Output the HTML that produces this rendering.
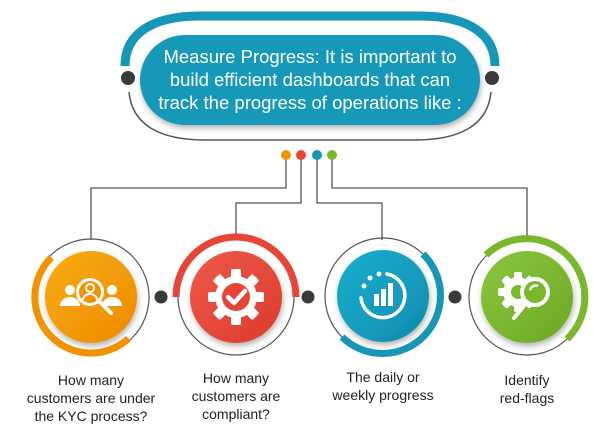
<!DOCTYPE html>
<html><head><meta charset="utf-8"><style>
html,body{margin:0;padding:0;background:#fff;}
body{width:600px;height:437px;position:relative;overflow:hidden;font-family:"Liberation Sans",sans-serif;}
.lbl{position:absolute;width:150px;text-align:center;font-size:14px;line-height:18px;color:#222;}
</style></head><body>
<svg width="600" height="437" style="position:absolute;left:0;top:0">
<defs>
<linearGradient id="go" x1="0" y1="0" x2="1" y2="1"><stop offset="0" stop-color="#f8ae10"/><stop offset="1" stop-color="#ee8a00"/></linearGradient>
<linearGradient id="gr" x1="0" y1="0" x2="1" y2="1"><stop offset="0" stop-color="#ee5a4a"/><stop offset="1" stop-color="#dc3a2c"/></linearGradient>
<linearGradient id="gb" x1="0" y1="0" x2="1" y2="1"><stop offset="0" stop-color="#1aafcf"/><stop offset="1" stop-color="#0f8bad"/></linearGradient>
<linearGradient id="gg" x1="0" y1="0" x2="1" y2="1"><stop offset="0" stop-color="#8cc63e"/><stop offset="1" stop-color="#6aa823"/></linearGradient>
<filter id="sh" x="-20%" y="-20%" width="140%" height="150%"><feDropShadow dx="1" dy="3" stdDeviation="3" flood-color="#000" flood-opacity="0.3"/></filter>
</defs>
<!-- top frame -->
<path d="M125,66 C125,35 150,16 200,16 L420,16 C470,16 495,35 495,66" fill="none" stroke="#1697b7" stroke-width="9"/>
<path d="M129,92 C132,125 160,140 205,140 L415,140 C460,140 488,125 491,92" fill="none" stroke="#555" stroke-width="1.5"/>
<circle cx="128" cy="78" r="7" fill="#3a3a3a"/>
<circle cx="492" cy="78" r="7" fill="#3a3a3a"/>
<rect x="140" y="35" width="340" height="90" rx="45" fill="#1599b8" filter="url(#sh)"/>
<!-- connectors -->
<g fill="none" stroke="#555" stroke-width="1.3">
<path d="M286,155 V188 H91 V240"/>
<path d="M301,155 V203 H236 V240"/>
<path d="M317,155 V203 H382 V240"/>
<path d="M332,155 V188 H527 V240"/>
</g>
<circle cx="286" cy="155" r="5" fill="#f39200"/>
<circle cx="301" cy="155" r="5" fill="#e84536"/>
<circle cx="317" cy="155" r="5" fill="#1796b8"/>
<circle cx="332" cy="155" r="5" fill="#7ab82b"/>
<!-- rings -->
<g fill="none" stroke="#555" stroke-width="1.2">
<circle cx="91" cy="297" r="58"/><circle cx="236" cy="297" r="58"/><circle cx="383" cy="296" r="58"/><circle cx="527" cy="297" r="58"/>
</g>
<g fill="none" stroke-width="7" stroke="#fff"></g>
<path d="M128.5,338.6 A56,56 0 0 1 51.4,257.4" fill="none" stroke="#f39200" stroke-width="7"/>
<path d="M176,297 A60,60 0 0 1 296,297" fill="none" stroke="#e84536" stroke-width="7"/>
<path d="M423,254 A57,57 0 1 1 342,337" fill="none" stroke="#1796b8" stroke-width="7"/>
<path d="M486,255 A58,58 0 0 1 567,339" fill="none" stroke="#7ab82b" stroke-width="7"/>
<circle cx="91" cy="297" r="46" fill="url(#go)" filter="url(#sh)"/>
<circle cx="236" cy="297" r="46" fill="url(#gr)" filter="url(#sh)"/>
<circle cx="383" cy="296" r="46" fill="url(#gb)" filter="url(#sh)"/>
<circle cx="527" cy="297" r="46" fill="url(#gg)" filter="url(#sh)"/>
<circle cx="161" cy="297" r="6.5" fill="#3a3a3a"/>
<circle cx="308" cy="297" r="6.5" fill="#3a3a3a"/>
<circle cx="455" cy="297" r="6.5" fill="#3a3a3a"/>
<!-- icon 1 people + magnifier -->
<g fill="#fff">
<circle cx="70" cy="290" r="5"/><path d="M60,306 a10,9 0 0 1 20,0z"/>
<circle cx="112" cy="290" r="5"/><path d="M102,306 a10,9 0 0 1 20,0z"/>
<circle cx="90" cy="292" r="14"/>
</g>
<circle cx="90" cy="292" r="11" fill="#f39200"/>
<circle cx="90" cy="288" r="4" fill="none" stroke="#fff" stroke-width="2"/>
<path d="M83,300 a7,6 0 0 1 14,0" fill="none" stroke="#fff" stroke-width="2"/>
<path d="M100,302 L111,313" stroke="#fff" stroke-width="4" stroke-linecap="round"/>
<!-- icon 2 gear check -->
<g transform="translate(236,297)">
<g fill="#fff">
<circle r="21"/>
<rect x="-5" y="-28" width="10" height="56" rx="2"/>
<rect x="-5" y="-28" width="10" height="56" rx="2" transform="rotate(45)"/>
<rect x="-5" y="-28" width="10" height="56" rx="2" transform="rotate(90)"/>
<rect x="-5" y="-28" width="10" height="56" rx="2" transform="rotate(135)"/>
</g>
<circle r="14" fill="#e84536"/>
<path d="M-8,0 L-2,6 L9,-6" fill="none" stroke="#fff" stroke-width="4.5" stroke-linecap="round" stroke-linejoin="round"/>
</g>
<!-- icon 3 chart -->
<g transform="translate(383,296)">
<path d="M4,-22 A22,22 0 1 1 -22,2" fill="none" stroke="#fff" stroke-width="3.5" stroke-linecap="round"/>
<circle cx="-4" cy="-22" r="2.5" fill="#fff"/><circle cx="-13" cy="-18" r="2.5" fill="#fff"/><circle cx="-19" cy="-10" r="2.5" fill="#fff"/>
<rect x="-9" y="-2" width="5" height="12" fill="#fff"/><rect x="-2" y="-7" width="5" height="17" fill="#fff"/><rect x="5" y="-13" width="5" height="23" fill="#fff"/>
</g>
<!-- icon 4 gear magnifier -->
<g transform="translate(518,292)">
<g fill="#fff"><circle r="15"/>
<rect x="-4" y="-20" width="8" height="40" rx="2"/><rect x="-4" y="-20" width="8" height="40" rx="2" transform="rotate(45)"/><rect x="-4" y="-20" width="8" height="40" rx="2" transform="rotate(90)"/><rect x="-4" y="-20" width="8" height="40" rx="2" transform="rotate(135)"/></g>
<circle r="7" fill="#7ab82b"/>
</g>
<circle cx="535" cy="292" r="13" fill="#7ab82b" stroke="#fff" stroke-width="4"/>
<path d="M527,302 L514,318" stroke="#fff" stroke-width="4" stroke-linecap="round"/>
<path d="M530,290 a6,6 0 0 1 8,-4" fill="none" stroke="#fff" stroke-width="2.5"/>
</svg>
<div style="position:absolute;left:140px;top:45px;width:340px;text-align:center;color:#fff;font-size:18.5px;line-height:23px;">Measure Progress: It is important to<br>build efficient dashboards that can<br>track the progress of operations like :</div>
<div class="lbl" style="left:16px;top:371px">How many<br>customers are under<br>the KYC process?</div>
<div class="lbl" style="left:161px;top:369px">How many<br>customers are<br>compliant?</div>
<div class="lbl" style="left:308px;top:368px">The daily or<br>weekly progress</div>
<div class="lbl" style="left:452px;top:371px">Identify<br>red-flags</div>
</body></html>
